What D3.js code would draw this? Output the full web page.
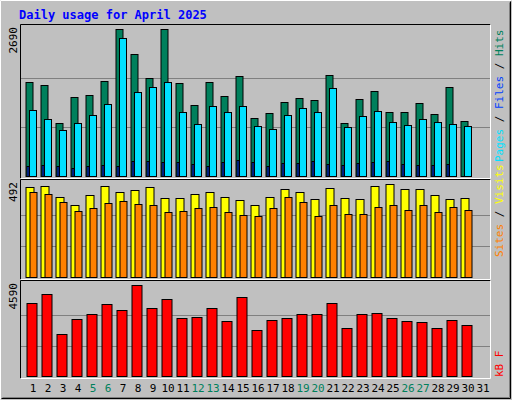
<!DOCTYPE html><html><head><meta charset="utf-8"><script src="https://d3js.org/d3.v7.min.js"></script>
<style>body{margin:0;background:#fff}</style></head><body><script>
const days=d3.range(1,32);
const hits=[1722,1668,974,1448,1485,1741,2690,2234,1795,2690,1704,1302,1722,1467,1832,1065,1156,1357,1430,1394,1850,974,1412,1558,1175,1175,1339,1138,1631,1010,0];
const files=[1211,1047,846,974,1120,1321,2526,1540,1631,1722,1175,955,1284,1175,1284,919,864,1120,1248,1175,1613,901,1102,1193,992,937,1047,992,955,919,0];
const pages=[176,195,176,140,176,195,176,268,268,250,250,213,176,250,286,250,176,231,231,268,213,195,231,250,268,213,195,195,213,0,0];
const visits=[475,481,422,380,433,481,449,460,475,417,417,438,449,422,406,380,422,465,449,411,470,417,411,481,492,465,465,433,411,417,0];
const sites=[449,438,395,347,363,390,401,385,379,342,347,363,369,342,326,321,363,422,395,321,379,331,331,369,379,353,379,342,369,353,0];
const kbytes=[3674,4128,2111,2868,3120,3624,3321,4590,3422,3876,2918,2968,3422,2767,3976,2313,2818,2918,3120,3120,3674,2415,3120,3170,2918,2767,2716,2414,2818,2565,0];
const maxLabels=["2690","492","4590"];
const weekend=[5,6,12,13,19,20,26,27];
const W=512,H=400;
const svg=d3.select("body").append("svg").attr("width",W).attr("height",H).style("font-family","'DejaVu Sans Mono',monospace");
svg.append("rect").attr("width",W).attr("height",H).attr("fill","#C0C0C0");
// bevel
svg.append("path").attr("d","M0.5,399.5V0.5H511.5").attr("stroke","#fff").attr("fill","none");
svg.append("path").attr("d","M1.5,398.5H510.5V1.5").attr("stroke","#000").attr("fill","none");
svg.append("path").attr("d","M2.5,397.5H509.5V2.5").attr("stroke","#808080").attr("fill","none");
svg.append("text").attr("x",19).attr("y",19).attr("fill","#0000FF").attr("font-weight","bold").attr("font-size",12).text("Daily usage for April 2025");
const x=d3.scaleBand().domain(days).range([23,488]);
const panels=[{y0:24,y1:178,max:2690,lab:0},{y0:179,y1:279,max:492,lab:1},{y0:280,y1:378,max:4590,lab:2}];
function frame(p){
  svg.append("path").attr("d",`M20.5,${p.y1+0.5}V${p.y0+0.5}H490.5`).attr("stroke","#000").attr("fill","none");
  svg.append("path").attr("d",`M20.5,${p.y1+0.5}H490.5V${p.y0+0.5}`).attr("stroke","#fff").attr("fill","none");
}
const yScales=panels.map(p=>{
  frame(p);
  const bot=p.y1-2, top=p.y0+5;
  const y=d3.scaleLinear().domain([0,p.max]).range([bot,top]);
  [1/3,2/3].forEach(f=>svg.append("line").attr("x1",21).attr("x2",490).attr("y1",Math.round(y(p.max*f))+0.5).attr("y2",Math.round(y(p.max*f))+0.5).attr("stroke","#808080"));
  svg.append("text").attr("transform",`translate(17,${p.y0+3}) rotate(-90)`).attr("text-anchor","end").attr("font-size",11).attr("fill","#000").text(maxLabels[p.lab]);
  return y;
});
function bars(data,y,off,w,color){
  svg.append("g").selectAll("rect").data(days.filter((d,i)=>data[i]>0)).join("rect")
   .attr("x",d=>x(d)+off+0.5).attr("width",w).attr("y",d=>Math.round(y(data[d-1]))+0.5)
   .attr("height",d=>y(0)-Math.round(y(data[d-1]))).attr("fill",color).attr("stroke","#000");
}
bars(hits,yScales[0],2.5,7,"#00805C");
bars(files,yScales[0],6,7,"#00E0FF");
bars(pages,yScales[0],3.5,2,"#0040FF");
bars(visits,yScales[1],2.5,8,"#FFFF00");
bars(sites,yScales[1],6.5,7,"#FF8000");
bars(kbytes,yScales[2],3.5,10,"#FF0000");
svg.append("g").selectAll("text").data(days).join("text").attr("x",d=>x(d)+10).attr("y",392).attr("text-anchor","middle").attr("font-size",11)
 .attr("fill",d=>weekend.includes(d)?"#00805C":"#000").text(d=>d);
function rlabel(y,parts){
  const t=svg.append("text").attr("transform",`translate(503,${y}) rotate(-90)`).attr("font-size",11);
  parts.forEach(([s,c])=>t.append("tspan").attr("fill",c).text(s));
}
rlabel(162,[["Pages","#00E0FF"],[" / ","#000"],["Files","#0040FF"],[" / ","#000"],["Hits","#00805C"]]);
rlabel(257,[["Sites","#FF8000"],[" / ","#000"],["Visits","#FFFF00"]]);
rlabel(377,[["kB F","#FF0000"]]);
</script></body></html>
